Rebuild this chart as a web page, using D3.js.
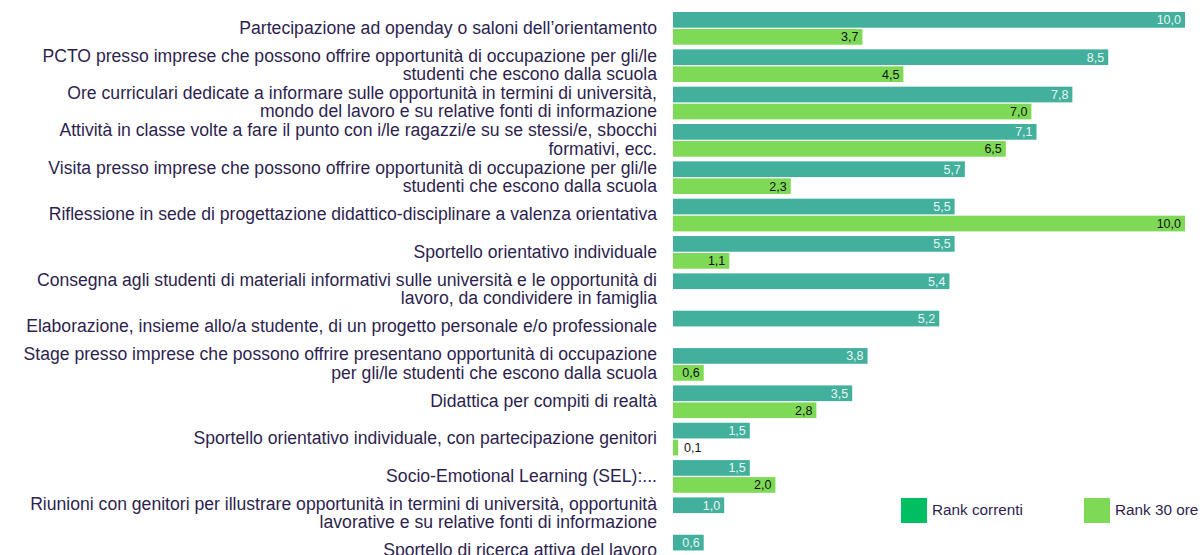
<!DOCTYPE html>
<html>
<head>
<meta charset="utf-8">
<script src="https://cdn.jsdelivr.net/npm/d3@7"></script>
<style>
  body { margin: 0; background: #fff; }
  svg { display: block; font-family: "Liberation Sans", Arial, sans-serif; }
</style>
</head>
<body>
<div class="chart"></div>
<script>
// categories, with the line breaks used in the picture
var categories = [
  "Partecipazione ad openday o saloni dell\u2019orientamento",
  "PCTO presso imprese che possono offrire opportunità di occupazione per gli/le\nstudenti che escono dalla scuola",
  "Ore curriculari dedicate a informare sulle opportunità in termini di università,\nmondo del lavoro e su relative fonti di informazione",
  "Attività in classe volte a fare il punto con i/le ragazzi/e su se stessi/e, sbocchi\nformativi, ecc.",
  "Visita presso imprese che possono offrire opportunità di occupazione per gli/le\nstudenti che escono dalla scuola",
  "Riflessione in sede di progettazione didattico-disciplinare a valenza orientativa",
  "Sportello orientativo individuale",
  "Consegna agli studenti di materiali informativi sulle università e le opportunità di\nlavoro, da condividere in famiglia",
  "Elaborazione, insieme allo/a studente, di un progetto personale e/o professionale",
  "Stage presso imprese che possono offrire presentano opportunità di occupazione\nper gli/le studenti che escono dalla scuola",
  "Didattica per compiti di realtà",
  "Sportello orientativo individuale, con partecipazione genitori",
  "Socio-Emotional Learning (SEL):...",
  "Riunioni con genitori per illustrare opportunità in termini di università, opportunità\nlavorative e su relative fonti di informazione",
  "Sportello di ricerca attiva del lavoro"
];

var rankCorrenti = [10.0, 8.5, 7.8, 7.1, 5.7, 5.5, 5.5, 5.4, 5.2, 3.8, 3.5, 1.5, 1.5, 1.0, 0.6];
var rank30ore    = [3.7, 4.5, 7.0, 6.5, 2.3, 10.0, 1.1, null, null, 0.6, 2.8, 0.1, 2.0, null, null];

var seriesNames = ["Rank correnti", "Rank 30 ore"];
var barColors = ["#42b09d", "#7ed957"];
var legendColors = ["#00bf63", "#7ed957"];

var width = 1200, height = 555;

var svg = d3.select(".chart").append("svg")
    .attr("width", width)
    .attr("height", height);

var x = d3.scaleLinear()
    .domain([0, 10])
    .range([673, 1185]);

var step = 37.34, band = 32.7;
var y = d3.scaleBand()
    .domain(categories)
    .range([12, 12 + step * (categories.length - 1) + band])
    .paddingInner(1 - band / step)
    .paddingOuter(0);

var ySub = d3.scaleBand()
    .domain(seriesNames)
    .range([0, y.bandwidth()])
    .paddingInner(0.076);

var rows = categories.map(function(c, i){
  return { cat: c, vals: [rankCorrenti[i], rank30ore[i]] };
});

// category labels
var labels = svg.append("g").attr("class", "labels");
rows.forEach(function(r){
  var lines = r.cat.split("\n");
  var lh = 18.5;
  var cy = y(r.cat) + y.bandwidth() / 2 - 1;
  var t = labels.append("text")
      .attr("x", 657)
      .attr("text-anchor", "end")
      .attr("font-size", "17.6px")
      .style("fill", "#2e1f4f");
  lines.forEach(function(l, j){
    t.append("tspan")
      .attr("x", 657)
      .attr("y", cy + (j - (lines.length - 1) / 2) * lh)
      .attr("dy", "0.35em")
      .text(l);
  });
});

// bars
var groups = svg.selectAll("g.row")
    .data(rows)
    .enter().append("g")
    .attr("class", "row")
    .attr("transform", function(d){ return "translate(0," + y(d.cat) + ")"; });

groups.each(function(r){
  var g = d3.select(this);
  r.vals.forEach(function(v, k){
    if (v === null) return;
    var yy = ySub(seriesNames[k]);
    var w = x(v) - x(0);
    g.append("rect")
      .attr("x", x(0))
      .attr("y", yy)
      .attr("width", w)
      .attr("height", ySub.bandwidth())
      .style("fill", barColors[k]);

    var label = d3.format(".1f")(v).replace(".", ",");
    var inside = w > 26;
    g.append("text")
      .attr("x", inside ? x(v) - 4 : x(v) + 6)
      .attr("y", yy + ySub.bandwidth() / 2)
      .attr("dy", "0.35em")
      .attr("text-anchor", inside ? "end" : "start")
      .attr("font-size", "12.5px")
      .style("fill", (k === 0 && inside) ? "#e8f5f1" : "#111")
      .text(label);
  });
});

// legend
var legend = svg.append("g").attr("class", "legend");
var legendX = [901, 1084];
seriesNames.forEach(function(s, i){
  legend.append("rect")
    .attr("x", legendX[i])
    .attr("y", 498)
    .attr("width", 26)
    .attr("height", 25)
    .style("fill", legendColors[i]);
  legend.append("text")
    .attr("x", legendX[i] + 31)
    .attr("y", 510)
    .attr("dy", "0.35em")
    .attr("font-size", "15.3px")
    .style("fill", "#2e1f4f")
    .text(s);
});
</script>
</body>
</html>
